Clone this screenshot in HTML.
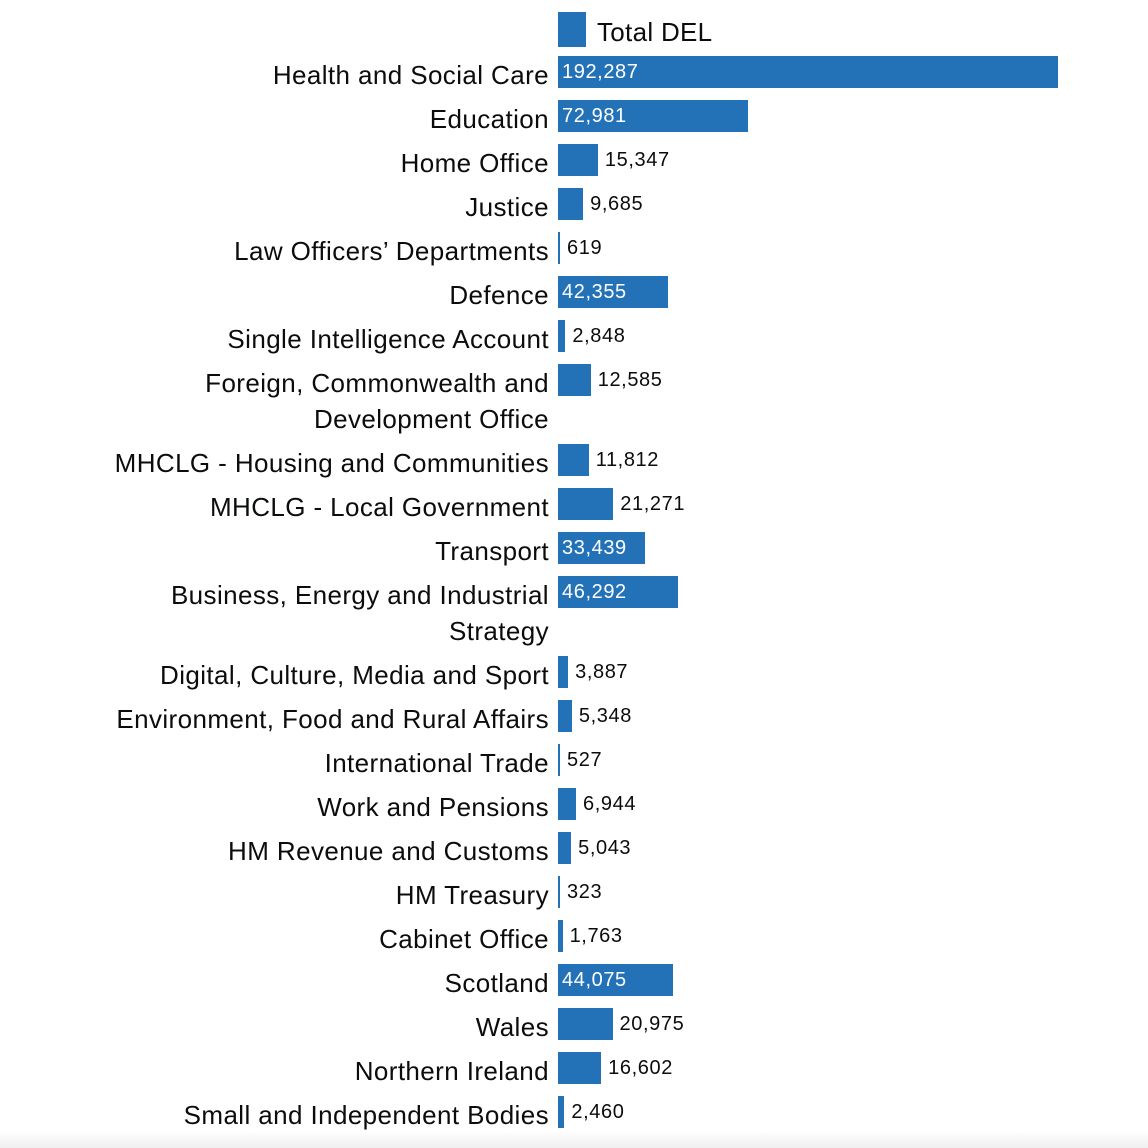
<!DOCTYPE html>
<html><head><meta charset="utf-8"><style>
body{margin:0;width:1148px;height:1148px;background:#fff;position:relative;overflow:hidden;font-family:"Liberation Sans",sans-serif;color:#0b0c0c}
.l{position:absolute;right:599px;font-size:26px;letter-spacing:0.4px;text-align:right;line-height:36px;white-space:nowrap}
.b{position:absolute;left:558px;height:32px;background:#2372b8}
.v{position:absolute;font-size:20px;letter-spacing:0.6px;line-height:24px;white-space:nowrap}
</style></head><body>
<div style="position:absolute;left:558px;top:12px;width:28px;height:35px;background:#2372b8"></div>
<div style="position:absolute;left:597px;top:14px;font-size:26px;letter-spacing:0.3px;line-height:36px">Total DEL</div>
<script>
var d=[["Health and Social Care",192287,56],["Education",72981,100],["Home Office",15347,144],["Justice",9685,188],["Law Officers’ Departments",619,232],["Defence",42355,276],["Single Intelligence Account",2848,320],["Foreign, Commonwealth and<br>Development Office",12585,364],["MHCLG - Housing and Communities",11812,444],["MHCLG - Local Government",21271,488],["Transport",33439,532],["Business, Energy and Industrial<br>Strategy",46292,576],["Digital, Culture, Media and Sport",3887,656],["Environment, Food and Rural Affairs",5348,700],["International Trade",527,744],["Work and Pensions",6944,788],["HM Revenue and Customs",5043,832],["HM Treasury",323,876],["Cabinet Office",1763,920],["Scotland",44075,964],["Wales",20975,1008],["Northern Ireland",16602,1052],["Small and Independent Bodies",2460,1096]];
var h="";
d.forEach(function(r){var w=Math.max(2,r[1]*500/192287),t=r[2];
h+='<div class="l" style="top:'+(t+1)+'px">'+r[0]+'</div>';
h+='<div class="b" style="top:'+t+'px;width:'+w+'px"></div>';
var s=r[1].toLocaleString("en-GB");
if(r[1]>30000)h+='<div class="v" style="color:#fff;left:562px;top:'+(t+4)+'px">'+s+'</div>';
else h+='<div class="v" style="left:'+(558+w+7)+'px;top:'+(t+4)+'px">'+s+'</div>';});
document.write(h);
</script>
<div style="position:absolute;left:0;top:1130px;width:1148px;height:18px;background:linear-gradient(#fff,#f0f0f0)"></div>
</body></html>
